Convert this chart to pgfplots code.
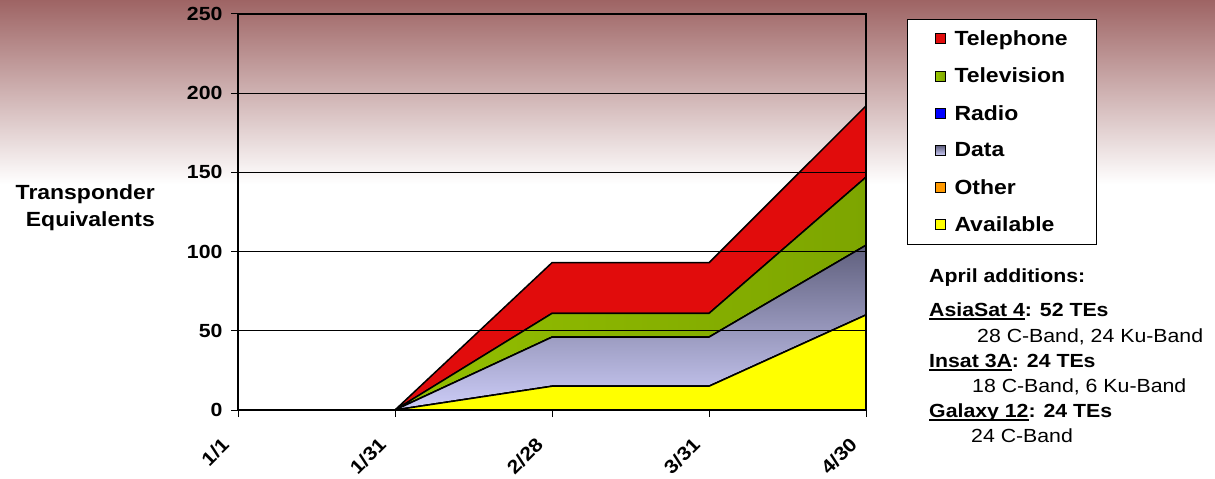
\documentclass[border=0pt]{standalone}
\usepackage{pgfplots}
\pgfplotsset{compat=1.18}
\usepackage{fontspec}
\setmainfont{Liberation Sans}[FakeStretch=1.12]
\newcommand\fs{\fontsize{19}{19}\selectfont}
\newcommand\lfs{\fontsize{20.5}{20.5}\selectfont}
\newcommand\ul[1]{\setbox0\hbox{#1}\rlap{\rule[-3pt]{\wd0}{1.6pt}}\box0}
\definecolor{bgtop}{RGB}{158,100,100}
\definecolor{telred}{RGB}{225,12,12}
\definecolor{tvL}{RGB}{155,200,0}
\definecolor{tvR}{RGB}{125,165,0}
\definecolor{datatop}{RGB}{95,95,125}
\definecolor{databot}{RGB}{205,205,248}
\definecolor{oth}{RGB}{255,153,0}
\definecolor{avail}{RGB}{255,255,0}
\begin{document}
\begin{tikzpicture}[x=1pt,y=1pt]
\useasboundingbox (0,0) rectangle (1215,479);
\fill[white] (0,0) rectangle (1215,479);
\shade[top color=bgtop, bottom color=white] (0,295) rectangle (1215,479);
\begin{axis}[
  at={(238pt,69pt)}, anchor=south west,
  scale only axis, width=628pt, height=396pt,
  xmin=0, xmax=4, ymin=0, ymax=250,
  xtick={0,1,2,3,4},
  xticklabels={1/1,1/31,2/28,3/31,4/30},
  ytick={0,50,100,150,200,250},
  tick align=outside, major tick length=7pt,
  xtick pos=bottom, ytick pos=left,
  tick style={black, line width=1pt},
  axis line style={black, line width=1.6pt},
  ymajorgrids, grid style={black, line width=1pt},
  /pgf/number format/assume math mode=true,
  yticklabel style={font=\bfseries\fs, xshift=-5pt},
  xticklabel style={font=\bfseries\fs, xshift=-10pt, yshift=-22pt, rotate=45, anchor=east},
  stack plots=y,
  area style,
  every axis plot/.append style={draw=black, line width=1.5pt},
  reverse legend,
  legend style={at={(1.0653,0.987)}, anchor=north west, draw=black, line width=1pt,
    fill=white, font=\bfseries\lfs, row sep=17pt, column sep=7pt, inner xsep=27pt, inner ysep=9pt,
    cells={anchor=west}},
  legend image code/.code={\draw[#1, draw=black, line width=1pt] (0pt,-5pt) rectangle (10pt,5pt);},
]
\addplot[fill=avail] coordinates {(0,0) (1,0) (2,15) (3,15) (4,60)} \closedcycle;
\addlegendentry{Available}
\addplot[fill=oth] coordinates {(0,0) (1,0) (2,0) (3,0) (4,0)} \closedcycle;
\addlegendentry{Other}
\addplot[top color=datatop, bottom color=databot] coordinates {(0,0) (1,0) (2,31) (3,31) (4,44)} \closedcycle;
\addlegendentry{Data}
\addplot[fill=blue] coordinates {(0,0) (1,0) (2,0) (3,0) (4,0)} \closedcycle;
\addlegendentry{Radio}
\addplot[left color=tvL, right color=tvR] coordinates {(0,0) (1,0) (2,15) (3,15) (4,43)} \closedcycle;
\addlegendentry{Television}
\addplot[fill=telred] coordinates {(0,0) (1,0) (2,32) (3,32) (4,45)} \closedcycle;
\addlegendentry{Telephone}
\end{axis}
\node[anchor=base east, inner sep=0pt, font=\bfseries\lfs] at (155,279) {Transponder};
\node[anchor=base east, inner sep=0pt, font=\bfseries\lfs] at (155,252) {Equivalents};
\begin{scope}[every node/.style={anchor=base west, inner sep=0pt, font=\fs}]
\node[font=\bfseries\fs] at (929,196) {April additions:};
\node[font=\bfseries\fs] at (929,162) {\ul{AsiaSat 4}: 52 TEs};
\node at (977,136) {28 C-Band, 24 Ku-Band};
\node[font=\bfseries\fs] at (929,111) {\ul{Insat 3A}: 24 TEs};
\node at (972,86) {18 C-Band, 6 Ku-Band};
\node[font=\bfseries\fs] at (929,61) {\ul{Galaxy 12}: 24 TEs};
\node at (971,36) {24 C-Band};
\end{scope}
\end{tikzpicture}
\end{document}
